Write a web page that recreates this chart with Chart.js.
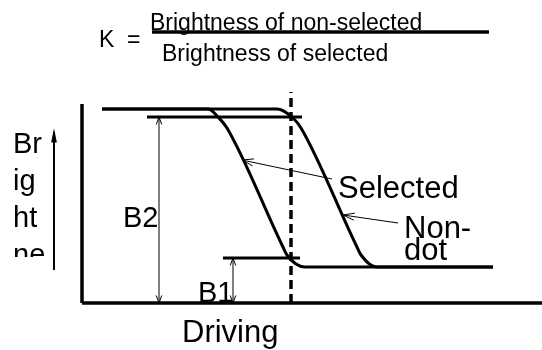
<!DOCTYPE html>
<html>
<head>
<meta charset="utf-8">
<script src="https://cdn.jsdelivr.net/npm/chart.js@4/dist/chart.umd.min.js"></script>
<style>
    html, body {
        margin: 0;
        padding: 0;
        background: #ffffff;
    }
    canvas {
        display: block;
    }
</style>
</head>
<body>
<canvas id="kChart" width="542" height="350"></canvas>
<script>

// curve values: x = driving, y = brightness (axis origin = 0,0)
const selectedX = [20, 126, 137, 145, 200, 205, 223, 411];
const selectedY = [194, 194, 185, 175, 58, 48, 36, 36];

const nonDotX = [20, 195, 211, 219, 274, 279, 295, 411];
const nonDotY = [194, 194, 185, 175, 58, 48, 36, 36];

// reference levels and markers
const levelB2X = [65, 220];
const levelB2Y = [186, 186];

const levelB1X = [141, 218];
const levelB1Y = [45, 45];

const dashedX = [209, 209];
const dashedY = [0, 211];

const arrowB2X = [77, 77];
const arrowB2Y = [0, 186];

const arrowB1X = [151, 151];
const arrowB1Y = [0, 45];

const brightArrowX = [-28, -28];
const brightArrowY = [33, 171];

const leaderSelectedX = [160, 250];
const leaderSelectedY = [143, 124];

const leaderNonDotX = [261, 316];
const leaderNonDotY = [88, 80];

const axisLeftX = [0, 0];
const axisLeftY = [0, 199];

const axisBottomX = [0, 460];
const axisBottomY = [0, 0];

const fractionX = [70, 407];
const fractionY = [271, 271];

const formulaTop = 'Brightness of non-selected';
const formulaBottom = 'Brightness of selected';
const yLabelParts = ['Br', 'ig', 'ht', 'ne'];

function points(xs, ys) {
    return xs.map((x, i) => ({ x: x, y: ys[i] }));
}

function line(xs, ys, width, extra) {
    return Object.assign({
        data: points(xs, ys),
        showLine: true,
        borderColor: '#000000',
        borderWidth: width,
        pointRadius: 0,
        fill: false
    }, extra || {});
}

const arrowPlugin = {
    id: 'arrowHeads',
    afterDatasetsDraw(chart) {
        const ctx = chart.ctx;
        chart.data.datasets.forEach((ds, i) => {
            if (!ds.heads) {
                return;
            }
            const pts = chart.getDatasetMeta(i).data;
            const ends = [];
            if (ds.heads.start) {
                ends.push([pts[0], pts[1]]);
            }
            if (ds.heads.end) {
                ends.push([pts[pts.length - 1], pts[pts.length - 2]]);
            }
            ends.forEach(([tip, from]) => {
                const ang = Math.atan2(tip.y - from.y, tip.x - from.x);
                const len = ds.heads.len;
                const spread = ds.heads.spread;
                ctx.save();
                ctx.strokeStyle = '#000000';
                ctx.fillStyle = '#000000';
                ctx.lineWidth = ds.heads.width;
                ctx.beginPath();
                ctx.moveTo(
                    tip.x - len * Math.cos(ang - spread),
                    tip.y - len * Math.sin(ang - spread)
                );
                ctx.lineTo(tip.x, tip.y);
                ctx.lineTo(
                    tip.x - len * Math.cos(ang + spread),
                    tip.y - len * Math.sin(ang + spread)
                );
                if (ds.heads.filled) {
                    ctx.closePath();
                    ctx.fill();
                }
                ctx.stroke();
                ctx.restore();
            });
        });
    }
};

const textPlugin = {
    id: 'labels',
    afterDraw(chart) {
        const ctx = chart.ctx;
        const sx = chart.scales.x;
        const sy = chart.scales.y;
        const put = (text, x, y, size) => {
            ctx.font = size + 'px "Liberation Sans", Arial, sans-serif';
            ctx.fillText(text, sx.getPixelForValue(x), sy.getPixelForValue(y));
        };

        ctx.save();
        ctx.fillStyle = '#000000';
        ctx.textAlign = 'left';
        ctx.textBaseline = 'alphabetic';

        put('K', 17, 256, 23);
        put('=', 45, 256, 23);
        put(formulaTop, 68, 273, 23);
        put(formulaBottom, 80, 242, 23);

        put('B2', 41, 76, 29);
        put('B1', 116, 1, 29);
        put('Selected', 256, 105, 31);
        put('Non-', 322, 65, 31);
        put('dot', 322, 43, 31);
        put('Driving', 100, -39, 31);

        // wrapped y label, cut off at the bottom
        ctx.save();
        ctx.beginPath();
        ctx.rect(0, 0, sx.getPixelForValue(-34), sy.getPixelForValue(46));
        ctx.clip();
        [150, 113, 76, 39].forEach((y, i) => {
            put(yLabelParts[i], -69, y, 29);
        });
        ctx.restore();

        ctx.restore();
    }
};

new Chart(document.getElementById('kChart'), {

    type: 'scatter',

    data: {
        datasets: [
            line(axisLeftX, axisLeftY, 3.5),
            line(axisBottomX, axisBottomY, 3.5),
            line(fractionX, fractionY, 3.5),
            line(levelB2X, levelB2Y, 3),
            line(levelB1X, levelB1Y, 3),
            line(dashedX, dashedY, 3.5, { borderDash: [9, 5] }),
            line(selectedX, selectedY, 3, { cubicInterpolationMode: 'monotone' }),
            line(nonDotX, nonDotY, 3, { cubicInterpolationMode: 'monotone' }),
            line(arrowB2X, arrowB2Y, 1, {
                heads: { start: true, end: true, len: 8, spread: 0.35, width: 1 }
            }),
            line(arrowB1X, arrowB1Y, 1, {
                heads: { start: true, end: true, len: 8, spread: 0.35, width: 1 }
            }),
            line(brightArrowX, brightArrowY, 2, {
                heads: { end: true, len: 10, spread: 0.2, width: 1.5, filled: true }
            }),
            line(leaderSelectedX, leaderSelectedY, 1, {
                heads: { start: true, len: 12, spread: 0.3, width: 1 }
            }),
            line(leaderNonDotX, leaderNonDotY, 1, {
                heads: { start: true, len: 12, spread: 0.3, width: 1 }
            })
        ]
    },

    options: {
        responsive: false,
        animation: false,
        layout: {
            padding: 0
        },
        plugins: {
            legend: { display: false },
            tooltip: { enabled: false }
        },
        scales: {
            x: {
                type: 'linear',
                display: false,
                min: -82,
                max: 460
            },
            y: {
                type: 'linear',
                display: false,
                min: -47,
                max: 303
            }
        }
    },

    plugins: [arrowPlugin, textPlugin]

});

</script>
</body>
</html>
